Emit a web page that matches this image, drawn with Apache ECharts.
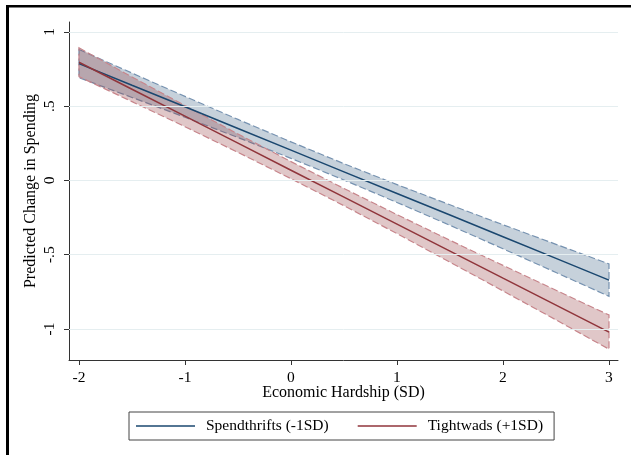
<!DOCTYPE html>
<html>
<head>
<meta charset="utf-8">
<script src="https://cdn.jsdelivr.net/npm/echarts@6/dist/echarts.min.js"></script>
<style>
  html, body { margin: 0; padding: 0; background: #fff; }
  #chart { width: 631px; height: 455px; }
</style>
</head>
<body>
<div id="chart"></div>
<script>
// x values (Economic Hardship, SD)
const hardship = [-2, -1.5, -1, -0.5, 0, 0.5, 1, 1.5, 2, 2.5, 3];

// Spendthrifts (-1SD): prediction and 95% CI
const spendFit   = [0.787, 0.641, 0.496, 0.350, 0.204, 0.058, -0.088, -0.233, -0.379, -0.525, -0.671];
const spendUpper = [0.882, 0.723, 0.566, 0.411, 0.260, 0.113, -0.028, -0.164, -0.298, -0.430, -0.562];
const spendLower = [0.692, 0.559, 0.426, 0.289, 0.149, 0.003, -0.148, -0.302, -0.460, -0.620, -0.780];

// Tightwads (+1SD)
const tightFit   = [0.796, 0.614, 0.433, 0.251, 0.069, -0.112, -0.294, -0.476, -0.658, -0.839, -1.021];
const tightUpper = [0.893, 0.697, 0.504, 0.313, 0.127, -0.054, -0.230, -0.403, -0.572, -0.739, -0.906];
const tightLower = [0.699, 0.531, 0.362, 0.189, 0.012, -0.170, -0.358, -0.550, -0.744, -0.939, -1.136];

// tick labels
const xTickVals = [-2, -1, 0, 1, 2, 3];
const yTickVals = [-1, -0.5, 0, 0.5, 1];
const yTickLabels = ["-1", "-.5", "0", ".5", "1"];

const seriesNames = ["Spendthrifts (-1SD)", "Tightwads (+1SD)"];

const blue = "#1a476f";
const red = "#90353b";
const blueEdge = "#7692b0";
const redEdge = "#c7858b";
const font = "Liberation Serif";

const pairs = (ys) => hardship.map((x, i) => [x, ys[i]]);

const chart = echarts.init(document.getElementById("chart"));

// CI band: one polygon (upper edge forward, lower edge back), dashed outline
const bandSeries = (name, lo, up, edge, fillColor, z) => ({
  name: name + "_ci",
  type: "custom",
  silent: true,
  z: z,
  data: hardship.map((x, i) => [x, lo[i], up[i]]),
  encode: { x: 0, y: [1, 2] },
  renderItem: (params, api) => {
    if (params.dataIndex !== 0) return null;
    const pts = [];
    hardship.forEach((x, i) => pts.push(api.coord([x, up[i]])));
    for (let i = hardship.length - 1; i >= 0; i--) pts.push(api.coord([hardship[i], lo[i]]));
    return {
      type: "polygon",
      shape: { points: pts },
      style: { fill: fillColor, stroke: edge, lineWidth: 1.2, lineDash: [7, 3] },
    };
  },
});

const option = {
  animation: false,
  backgroundColor: "#fff",
  textStyle: { fontFamily: font },
  grid: { left: 69, right: 13, top: 22, bottom: 95 },
  graphic: [
    { type: "rect", shape: { x: 6, y: 5, width: 625, height: 2.5 }, style: { fill: "#000" } },
    { type: "rect", shape: { x: 6, y: 5, width: 3, height: 450 }, style: { fill: "#000" } },
  ],
  xAxis: {
    type: "value",
    min: -2.094,
    max: 3.085,
    name: "Economic Hardship (SD)",
    nameLocation: "middle",
    nameGap: 25,
    nameMoveOverlap: false,
    nameTextStyle: { fontFamily: font, fontSize: 16, color: "#000" },
    axisLine: { show: true, onZero: false, lineStyle: { color: "#333", width: 1 } },
    axisTick: { show: true, length: 5, customValues: xTickVals, lineStyle: { color: "#333" } },
    axisLabel: {
      customValues: xTickVals,
      margin: 10,
      fontFamily: font,
      fontSize: 15.5,
      color: "#000",
    },
    splitLine: { show: false },
  },
  yAxis: {
    type: "value",
    min: -1.209,
    max: 1.067,
    name: "Predicted Change in Spending",
    nameLocation: "middle",
    nameGap: 30,
    nameMoveOverlap: false,
    nameTextStyle: { fontFamily: font, fontSize: 16, color: "#000" },
    axisLine: { show: true, onZero: false, lineStyle: { color: "#333", width: 1 } },
    axisTick: { show: true, length: 5, customValues: yTickVals, lineStyle: { color: "#333" } },
    axisLabel: {
      customValues: yTickVals,
      rotate: 90,
      margin: 11,
      fontFamily: font,
      fontSize: 15.5,
      color: "#000",
      formatter: (v) => {
        const i = yTickVals.findIndex((t) => Math.abs(t - v) < 1e-9);
        return i >= 0 ? yTickLabels[i] : "";
      },
    },
    splitLine: { show: false },
  },
  legend: {
    data: seriesNames.map((n) => ({ name: n, icon: "rect" })),
    left: 129,
    top: 412,
    padding: [6, 11, 6, 7],
    itemGap: 29,
    itemWidth: 59,
    itemHeight: 1.5,
    borderColor: "#444",
    borderWidth: 1,
    borderRadius: 0,
    textStyle: { fontFamily: font, fontSize: 15.5, color: "#000", padding: [0, 0, 0, 6] },
  },
  series: [
    {
      name: "grid",
      type: "line",
      data: [],
      z: 0,
      silent: true,
      markLine: {
        silent: true,
        symbol: ["none", "none"],
        label: { show: false },
        lineStyle: { color: "#e5eef0", type: "solid", width: 1 },
        data: yTickVals.map((v) => ({ yAxis: v })),
      },
    },
    bandSeries("spend", spendLower, spendUpper, blueEdge, "rgba(26,71,111,0.25)", 1),
    bandSeries("tight", tightLower, tightUpper, redEdge, "rgba(144,53,59,0.28)", 2),
    {
      name: seriesNames[0],
      type: "line",
      data: pairs(spendFit),
      symbol: "none",
      z: 3,
      itemStyle: { color: blue },
      lineStyle: { color: blue, width: 1.5 },
    },
    {
      name: seriesNames[1],
      type: "line",
      data: pairs(tightFit),
      symbol: "none",
      z: 4,
      itemStyle: { color: red },
      lineStyle: { color: red, width: 1.5 },
    },
  ],
};

chart.setOption(option);
</script>
</body>
</html>
